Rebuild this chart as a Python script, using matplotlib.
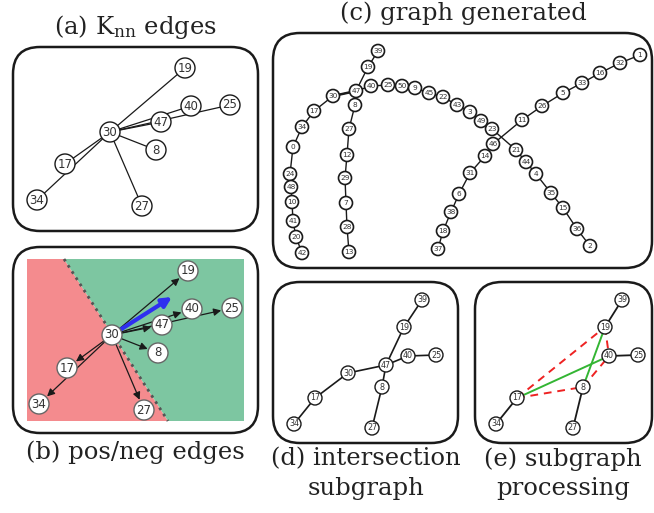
import matplotlib
matplotlib.use("Agg")
import matplotlib.pyplot as plt
from matplotlib.patches import Circle, FancyBboxPatch, Polygon

plt.rcParams['mathtext.fontset'] = 'dejavuserif'

# node layouts, one dict per panel (label -> x, y)
knn_pos = {'19': (185, 68), '40': (191, 106), '25': (230, 105), '47': (161, 122),
           '30': (110, 132), '8': (156, 150), '17': (65, 164), '34': (37, 200),
           '27': (142, 206)}
knn_edges = [('30', '19'), ('30', '40'), ('30', '25'), ('30', '47'), ('30', '8'),
             ('30', '17'), ('30', '34'), ('30', '27')]

pn_pos = {'19': (188, 271), '40': (192, 309), '25': (232, 308), '47': (162, 325),
          '30': (112, 335), '8': (158, 353), '17': (67, 368), '34': (39, 404),
          '27': (144, 410)}
pn_targets = ['19', '40', '25', '47', '8', '17', '34', '27']
pn_dir_tip = (172, 297)
pn_split = [(64, 259), (168, 421)]
pn_region = [27, 244, 259, 421]

gen_pos = {'39': (378, 51), '19': (368, 67), '47': (356, 91), '30': (333, 96),
           '17': (314, 111), '34': (302, 127), '0': (293, 147), '24': (290, 174),
           '48': (291, 187), '10': (292, 202), '41': (293, 221), '20': (296, 237),
           '42': (302, 253), '8': (355, 105), '27': (349, 129), '12': (347, 155),
           '29': (345, 178), '7': (346, 203), '28': (347, 227), '13': (349, 252),
           '40': (371, 86), '25': (388, 85), '50': (402, 86), '9': (415, 88),
           '45': (429, 93), '22': (443, 97), '43': (457, 105), '3': (470, 112),
           '49': (481, 121), '23': (492, 129), '21': (516, 150), '44': (526, 162),
           '4': (536, 174), '35': (551, 193), '15': (563, 208), '36': (577, 229),
           '2': (590, 246), '1': (640, 55), '32': (620, 63), '16': (600, 73),
           '33': (582, 83), '5': (563, 93), '26': (542, 106), '11': (522, 120),
           '46': (493, 144), '14': (485, 156), '31': (470, 173), '6': (459, 194),
           '38': (451, 212), '18': (443, 231), '37': (438, 249)}
gen_chains = [['39', '19', '47', '30', '17', '34', '0', '24', '48', '10', '41', '20', '42'],
              ['47', '8', '27', '12', '29', '7', '28', '13'],
              ['47', '40', '25', '50', '9', '45', '22', '43', '3', '49', '23', '21',
               '44', '4', '35', '15', '36', '2'],
              ['1', '32', '16', '33', '5', '26', '11', '46', '14', '31', '6', '38',
               '18', '37']]

inter_pos = {'39': (422, 300), '19': (404, 327), '40': (408, 356), '25': (436, 355),
             '47': (386, 365), '30': (348, 373), '8': (382, 387), '17': (315, 398),
             '34': (294, 424), '27': (372, 428)}
inter_edges = [('39', '19'), ('19', '47'), ('47', '40'), ('40', '25'), ('47', '30'),
               ('30', '17'), ('17', '34'), ('47', '8'), ('8', '27')]

proc_pos = {'39': (622, 300), '19': (605, 327), '40': (609, 356), '25': (638, 355),
            '8': (583, 387), '17': (517, 398), '34': (496, 424), '27': (573, 428)}
proc_kept = [('39', '19'), ('40', '25'), ('8', '27'), ('17', '34')]
proc_added = [('17', '40'), ('8', '19')]
proc_removed = [('17', '19'), ('17', '8'), ('19', '40'), ('8', '40')]

fig = plt.figure(figsize=(6.54, 5.13), dpi=100)
ax = fig.add_axes([0, 0, 1, 1])
ax.set_xlim(0, 654)
ax.set_ylim(513, 0)
ax.axis('off')


def frame(x0, y0, x1, y1):
    ax.add_patch(FancyBboxPatch((x0, y0), x1 - x0, y1 - y0,
                                boxstyle="round,pad=0,rounding_size=27",
                                fc='none', ec='#1a1a1a', lw=1.8, zorder=1))


def nodes(pos, r, fs, ec='#1a1a1a', lw=1.0):
    for lab, (x, y) in pos.items():
        ax.add_patch(Circle((x, y), r, fc='white', ec=ec, lw=lw, zorder=5))
        ax.text(x, y, lab, ha='center', va='center', fontsize=fs,
                color='#333333', zorder=6)


def edges(pos, pairs, **kw):
    for a, b in pairs:
        ax.plot([pos[a][0], pos[b][0]], [pos[a][1], pos[b][1]], zorder=2, **kw)


def title(x, y, s):
    ax.text(x, y, s, ha='center', va='center', fontsize=17.5,
            family='DejaVu Serif', color='#222222')


# (a) kNN edges
frame(13, 47, 258, 231)
edges(knn_pos, knn_edges, color='#1a1a1a', lw=0.9)
nodes(knn_pos, 10, 8.5)
title(135, 27, r"(a) K$_{\rm nn}$ edges")

# (b) positive / negative edges
frame(13, 247, 258, 433)
x0, x1, y0, y1 = pn_region
ax.add_patch(Polygon([(x0, y0), pn_split[0], pn_split[1], (x0, y1)],
                     fc='#f48b8e', ec='none', zorder=1))
ax.add_patch(Polygon([pn_split[0], (x1, y0), (x1, y1), pn_split[1]],
                     fc='#7dc6a1', ec='none', zorder=1))
ax.plot([pn_split[0][0], pn_split[1][0]], [pn_split[0][1], pn_split[1][1]],
        ls=':', color='#555555', lw=2, zorder=2)
src = pn_pos['30']
for t in pn_targets:
    ax.annotate('', xy=pn_pos[t], xytext=src, zorder=3,
                arrowprops=dict(arrowstyle='-|>', color='#1a1a1a', lw=0.9,
                                shrinkA=0, shrinkB=8, mutation_scale=11))
ax.annotate('', xy=pn_dir_tip, xytext=src, zorder=4,
            arrowprops=dict(arrowstyle='-|>', color='#2f2ff0', lw=3,
                            shrinkA=0, shrinkB=0, mutation_scale=14))
nodes(pn_pos, 10, 8.5, ec='#666666')
title(135, 452, "(b) pos/neg edges")

# (c) generated graph
frame(273, 33, 652, 268)
for chain in gen_chains:
    edges(gen_pos, list(zip(chain[:-1], chain[1:])), color='#1a1a1a', lw=1.0)
edges(gen_pos, [('30', '47')], color='#1a1a1a', lw=1.8)
nodes(gen_pos, 6.5, 5.3, lw=1.2)
title(463, 13, "(c) graph generated")

# (d) intersection subgraph
frame(273, 282, 458, 443)
edges(inter_pos, inter_edges, color='#1a1a1a', lw=1.2)
nodes(inter_pos, 7, 5.8)
title(366, 459, "(d) intersection")
title(366, 488, "subgraph")

# (e) subgraph processing
frame(475, 282, 652, 443)
edges(proc_pos, proc_kept, color='#1a1a1a', lw=1.3)
edges(proc_pos, proc_added, color='#33b533', lw=1.4)
edges(proc_pos, proc_removed, color='#ee2222', lw=1.4, ls=(0, (4, 3)))
nodes(proc_pos, 7, 5.8)
title(563, 459, "(e) subgraph")
title(563, 488, "processing")

fig.savefig('out.png', dpi=100)
